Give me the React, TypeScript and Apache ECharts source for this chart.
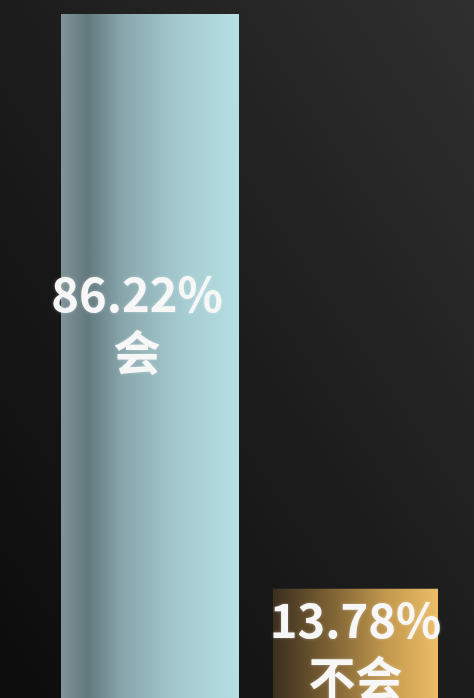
import React, { useEffect, useRef } from "react";
import * as echarts from "echarts";

const categories = ["会", "不会"];
const valuesYes = [86.22, "-"];
const valuesNo = ["-", 13.78];

export default function App() {
  const ref = useRef<HTMLDivElement>(null);
  useEffect(() => {
    document.body.style.margin = "0";
    const chart = echarts.init(ref.current!, undefined, { renderer: "svg" });
    const labelBase = {
      show: true,
      position: "inside",
      formatter: "{c}%\n{b}",
      color: "#f7f7f7",
      fontSize: 47,
      fontWeight: "bold",
      fontFamily: "Noto Sans CJK SC",
      lineHeight: 58,
      align: "center",
      textShadowColor: "rgba(255,255,255,0.35)",
      textShadowBlur: 3,
    };
    chart.setOption({
      animation: false,
      backgroundColor: {
        type: "linear",
        x: 1,
        y: 0,
        x2: 0,
        y2: 1,
        colorStops: [
          { offset: 0, color: "#2f2f2f" },
          { offset: 0.5, color: "#1c1c1c" },
          { offset: 1, color: "#0c0c0c" },
        ],
      },
      grid: { left: 37.5, right: 12.5, top: 14, bottom: 0 },
      xAxis: {
        type: "category",
        data: categories,
        show: false,
      },
      yAxis: { type: "value", min: 0, max: 86.22, show: false },
      series: [
        {
          type: "bar",
          data: valuesYes,
          barWidth: 178,
          barGap: "-100%",
          itemStyle: {
            color: {
              type: "linear",
              x: 0,
              y: 0,
              x2: 1,
              y2: 0,
              colorStops: [
                { offset: 0, color: "#7f9497" },
                { offset: 0.15, color: "#62797e" },
                { offset: 0.35, color: "#88a7ad" },
                { offset: 0.7, color: "#a6cdd2" },
                { offset: 1, color: "#b5dfe2" },
              ],
            },
          },
          label: { ...labelBase, offset: [-13, -36] },
        },
        {
          type: "bar",
          data: valuesNo,
          barWidth: 165,
          itemStyle: {
            color: {
              type: "linear",
              x: 0,
              y: 0,
              x2: 1,
              y2: 0,
              colorStops: [
                { offset: 0, color: "#3a2e1e" },
                { offset: 0.35, color: "#7d6234" },
                { offset: 0.7, color: "#c49a4e" },
                { offset: 1, color: "#ecbd66" },
              ],
            },
          },
          label: { ...labelBase, offset: [0, 3] },
        },
      ],
    });
    return () => chart.dispose();
  }, []);
  return <div ref={ref} style={{ width: 474, height: 698 }} />;
}
